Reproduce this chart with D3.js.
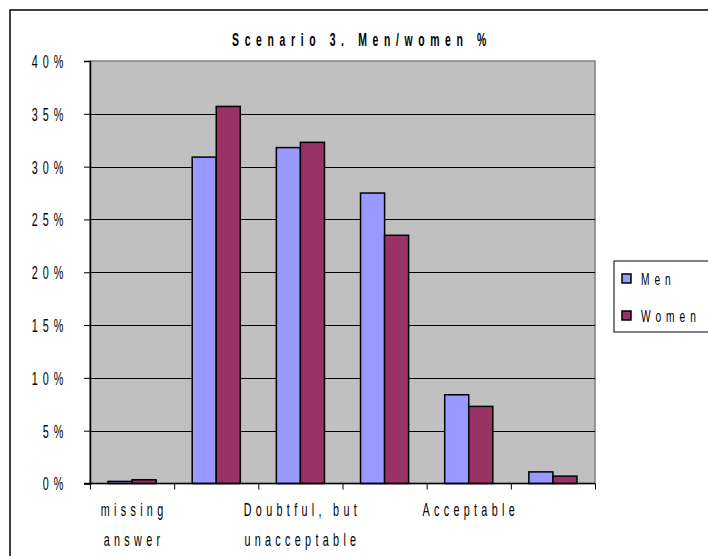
<!DOCTYPE html>
<html>
<head>
<meta charset="utf-8">
<script src="https://cdn.jsdelivr.net/npm/d3@7"></script>
<style>
  html, body { margin: 0; padding: 0; background: #fff; }
  svg { display: block; }
  text { font-family: "Liberation Sans", Arial, sans-serif; fill: #000; }
</style>
</head>
<body>
<svg id="chart" width="708" height="556"></svg>
<script>
// Response categories (only every other one carries a printed label)
const categories = ["missing\nanswer", "", "Doubtful, but\nunacceptable", "", "Acceptable", ""];
const seriesNames = ["Men", "Women"];
const menValues   = [0.2, 30.9, 31.8, 27.5, 8.4, 1.1];
const womenValues = [0.35, 35.7, 32.3, 23.5, 7.3, 0.7];
const yTicks = [0, 5, 10, 15, 20, 25, 30, 35, 40];
const seriesColors = ["#9999FF", "#993366"];
const title = "Scenario 3. Men/women %";

const svg = d3.select("#chart");
const plot = { left: 90, right: 595, top: 61, bottom: 483.5 };
const SX = 0.6;          // horizontal squeeze of the narrow typeface
const LS = 8.3;          // letter spacing (before squeeze)

// Outer chart frame
svg.append("rect")
  .attr("x", 10).attr("y", 10).attr("width", 800).attr("height", 700)
  .attr("fill", "#fff").attr("stroke", "#000").attr("stroke-width", 1.5);

// Scales
const x0 = d3.scaleBand().domain(d3.range(categories.length))
  .range([plot.left, plot.right]).paddingInner(0).paddingOuter(0);
const bw = x0.bandwidth();
const x1 = d3.scaleBand().domain(seriesNames)
  .range([bw * 0.75 / 3.5, bw * 2.75 / 3.5]);
const xEdges = d3.scaleLinear().domain([0, categories.length]).range([plot.left, plot.right]);
const y = d3.scaleLinear().domain([0, 40]).range([plot.bottom, plot.top]);

// Plot background
svg.append("rect")
  .attr("x", plot.left).attr("y", plot.top)
  .attr("width", plot.right - plot.left).attr("height", plot.bottom - plot.top)
  .attr("fill", "#C0C0C0").attr("stroke", "#808080").attr("stroke-width", 1.5);

// Horizontal gridlines
svg.append("g").selectAll("line")
  .data(yTicks.filter(t => t > 0 && t < 40))
  .join("line")
  .attr("x1", plot.left).attr("x2", plot.right)
  .attr("y1", d => Math.round(y(d)) + 0.5).attr("y2", d => Math.round(y(d)) + 0.5)
  .attr("stroke", "#000").attr("stroke-width", 1);

// Bars
const table = categories.map((c, i) => ({ i, Men: menValues[i], Women: womenValues[i] }));
const groups = svg.append("g").selectAll("g")
  .data(table).join("g")
  .attr("transform", d => `translate(${x0(d.i)},0)`);
groups.selectAll("rect")
  .data(d => seriesNames.map((s, k) => ({ s, k, v: d[s] })))
  .join("rect")
  .attr("x", d => x1(d.s))
  .attr("width", x1.bandwidth())
  .attr("y", d => y(d.v))
  .attr("height", d => y(0) - y(d.v))
  .attr("fill", d => seriesColors[d.k])
  .attr("stroke", "#000").attr("stroke-width", 1.5);

// Y axis
const yAxis = svg.append("g")
  .attr("transform", `translate(${plot.left},0)`)
  .call(d3.axisLeft(y).tickValues(yTicks).tickSize(6).tickFormat(d => d + "%"));
yAxis.select(".domain").attr("stroke", "#000").attr("stroke-width", 1.5);
yAxis.selectAll(".tick line").attr("stroke", "#000");
yAxis.selectAll(".tick text")
  .attr("x", -36).attr("dy", "0.36em")
  .attr("transform", `scale(${SX},1)`)
  .style("font-size", "18px").style("letter-spacing", LS + "px").style("font-family", null);

// X axis (ticks on category boundaries)
const xAxis = svg.append("g")
  .attr("transform", `translate(0,${plot.bottom})`)
  .call(d3.axisBottom(xEdges).tickValues(d3.range(categories.length + 1)).tickSize(6).tickFormat(""));
xAxis.select(".domain").attr("stroke", "#000").attr("stroke-width", 1.5)
  .attr("d", `M${plot.left - 6},0H${plot.right}`);
xAxis.selectAll(".tick line").attr("stroke", "#000");

// Category labels
const catG = svg.append("g").selectAll("g")
  .data(categories.map((c, i) => ({ i, lines: c ? c.split("\n") : [] })))
  .join("g")
  .attr("transform", d => `translate(${x0(d.i) + bw / 2 + 2},0) scale(${SX},1)`);
catG.selectAll("text")
  .data(d => d.lines.map((t, k) => ({ t, k })))
  .join("text")
  .attr("x", 0).attr("y", d => 516 + d.k * 30)
  .attr("text-anchor", "middle")
  .style("font-size", "18px").style("letter-spacing", "7.2px")
  .text(d => d.t);

// Title
svg.append("g")
  .attr("transform", `translate(362,46) scale(0.58,1)`)
  .append("text")
  .attr("text-anchor", "middle")
  .style("font-size", "18px").style("font-weight", "bold").style("letter-spacing", "9.7px")
  .text(title);

// Legend
const legend = svg.append("g");
legend.append("rect")
  .attr("x", 614).attr("y", 261).attr("width", 120).attr("height", 71)
  .attr("fill", "#fff").attr("stroke", "#000").attr("stroke-width", 1);
const items = legend.selectAll("g.item")
  .data(seriesNames).join("g").attr("class", "item")
  .attr("transform", (d, k) => `translate(622,${274 + k * 37})`);
items.append("rect")
  .attr("width", 9).attr("height", 9)
  .attr("fill", (d, k) => seriesColors[k])
  .attr("stroke", "#000").attr("stroke-width", 1.5);
items.append("g")
  .attr("transform", `translate(19,10.5) scale(${SX},1)`)
  .append("text")
  .style("font-size", "17px").style("letter-spacing", "8.3px")
  .text(d => d);
</script>
</body>
</html>
